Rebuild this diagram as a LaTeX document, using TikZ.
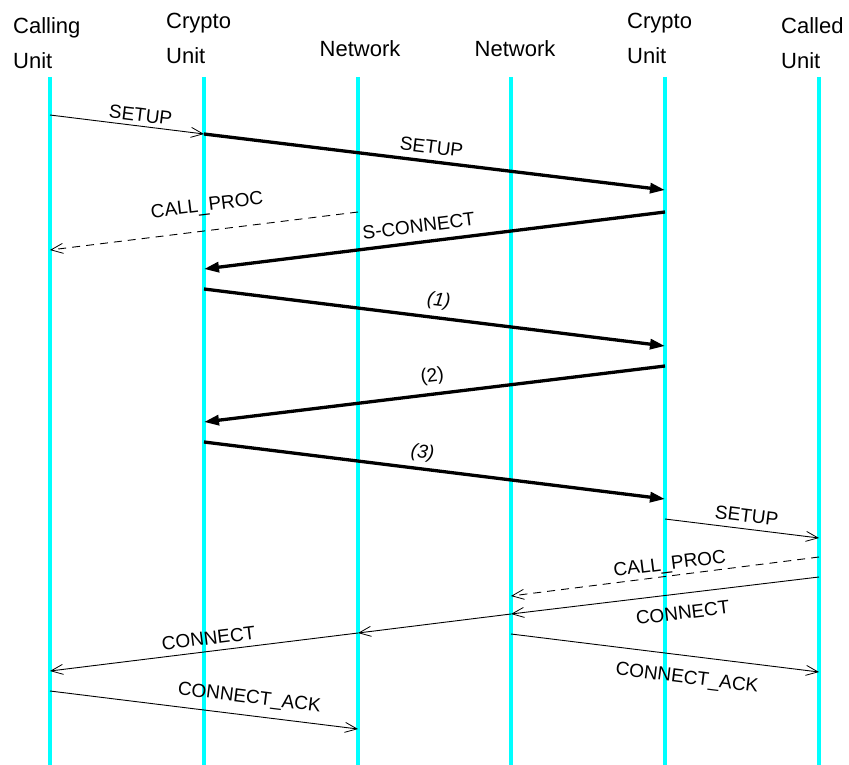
\documentclass[tikz,border=0pt]{standalone}
\usepackage{fontspec}
\setmainfont{Liberation Sans}
\usetikzlibrary{arrows.meta}
\begin{document}
\begin{tikzpicture}[x=1pt,y=-1pt,
  life/.style={draw={rgb,255:red,0;green,255;blue,255}, line width=4pt},
  hdr/.style={anchor=base west, inner sep=0pt, font=\fontsize{22}{26}\selectfont},
  thinmsg/.style={line width=0.9pt, -{Straight Barb[length=12pt,width=10pt,line width=0.8pt]}},
  dashmsg/.style={thinmsg, dash pattern=on 8pt off 6pt},
  thickmsg/.style={line width=3.3pt, -{Triangle[length=15pt,width=10pt]}},
  lbl/.style={sloped, inner sep=0pt, font=\fontsize{19}{22}\selectfont}
]
\useasboundingbox (0,0) rectangle (849,765);

% headers
\node[hdr] (h1a) at (13,34) {Calling};
\node[hdr] (h1b) at (13,69) {Unit};
\node[hdr] (h2a) at (166,29) {Crypto};
\node[hdr] (h2b) at (166,64) {Unit};
\node[hdr, anchor=base] (h3) at (360,57) {Network};
\node[hdr, anchor=base] (h4) at (515,57) {Network};
\node[hdr] (h5a) at (627,29) {Crypto};
\node[hdr] (h5b) at (627,64) {Unit};
\node[hdr] (h6a) at (781,34) {Called};
\node[hdr] (h6b) at (781,69) {Unit};

% lifelines
\foreach \n/\x in {1/50,2/204,3/358,4/511,5/665,6/819}{
  \coordinate (t\n) at (\x,77);
  \coordinate (b\n) at (\x,765);
  \draw[life] (t\n) -- (b\n);
}

% message end points
\coordinate (a1) at (50,115);  \coordinate (z1) at (204,134);
\coordinate (a2) at (204,134); \coordinate (z2) at (665,190);
\coordinate (a3) at (358,212); \coordinate (z3) at (50,250);
\coordinate (a4) at (665,212); \coordinate (z4) at (204,269);
\coordinate (a5) at (204,289); \coordinate (z5) at (665,346);
\coordinate (a6) at (665,366); \coordinate (z6) at (204,422);
\coordinate (a7) at (204,442); \coordinate (z7) at (665,499);
\coordinate (a8) at (665,519); \coordinate (z8) at (819,538);
\coordinate (a9) at (819,557); \coordinate (z9) at (511,596);
\coordinate (a10) at (819,577); \coordinate (z10) at (511,614);
\coordinate (a11) at (511,614); \coordinate (z11) at (358,633);
\coordinate (a12) at (358,633); \coordinate (z12) at (50,671);
\coordinate (a13) at (511,634); \coordinate (z13) at (819,672);
\coordinate (a14) at (50,691); \coordinate (z14) at (358,729);

\draw[thinmsg] (a1) -- node[lbl, above=4pt, pos=0.58] {SETUP} (z1);
\draw[thickmsg] (a2) -- node[lbl, above=6pt, pos=0.49] {SETUP} (z2);
\draw[dashmsg] (a3) -- node[lbl, above=15pt, pos=0.48] {CALL\_PROC} (z3);
\draw[thickmsg] (a4) -- node[lbl, above=8pt, pos=0.53] {S-CONNECT} (z4);
\draw[thickmsg] (a5) -- node[lbl, above=6pt, pos=0.505] {\itshape (1)} (z5);
\draw[thickmsg] (a6) -- node[lbl, above=7pt, pos=0.5] {(2)} (z6);
\draw[thickmsg] (a7) -- node[lbl, above=5pt, pos=0.47] {\itshape (3)} (z7);
\draw[thinmsg] (a8) -- node[lbl, above=6pt, pos=0.52] {SETUP} (z8);
\draw[dashmsg] (a9) -- node[lbl, above=2pt, pos=0.48] {CALL\_PROC} (z9);
\draw[thinmsg] (a10) -- node[lbl, below=12pt, pos=0.45] {CONNECT} (z10);
\draw[thinmsg] (a11) -- (z11);
\draw[thinmsg] (a12) -- node[lbl, above=6pt, pos=0.48] {CONNECT} (z12);
\draw[thinmsg] (a13) -- node[lbl, below=14pt, pos=0.58] {CONNECT\_ACK} (z13);
\draw[thinmsg] (a14) -- node[lbl, above=8pt, pos=0.64] {CONNECT\_ACK} (z14);
\end{tikzpicture}
\end{document}
